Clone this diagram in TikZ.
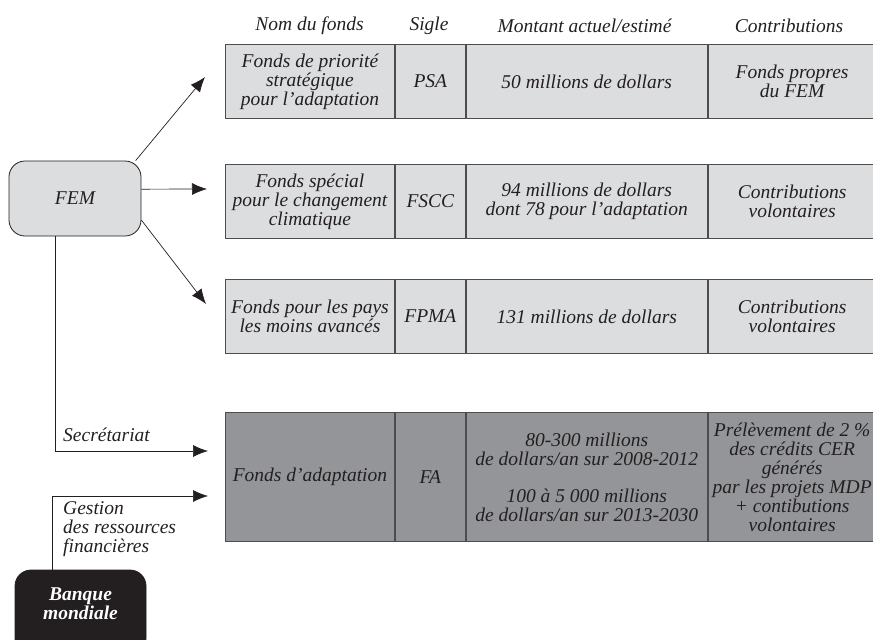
\documentclass[tikz,border=0pt]{standalone}
\usepackage{fontspec}
\setmainfont{Liberation Serif}
\usetikzlibrary{arrows.meta}

\definecolor{encre}{HTML}{231F20}
\definecolor{clair}{HTML}{DCDDDF}
\definecolor{fonce}{HTML}{939598}
\definecolor{bord}{HTML}{4D4D4F}

\tikzset{
        texte/.style = {font=\itshape\fontsize{19.5}{19}\selectfont, text=encre, align=center, inner sep=0pt},
        cellule/.style = {texte, draw=bord, line width=0.9pt, fill=clair, anchor=north west},
        colnom/.style = {minimum width=169pt},
        colsigle/.style = {minimum width=70pt},
        colmontant/.style = {minimum width=241pt},
        colcontrib/.style = {minimum width=168pt},
        fleche/.style = {draw=encre, line width=0.7pt, -{Latex[length=15pt,width=12pt]}},
        boite/.style = {texte, draw=encre, line width=0.8pt, rounded corners=16pt, minimum width=132pt}
    }

\begin{document}
\begin{tikzpicture}[x=1pt, y=-1pt]
            \useasboundingbox (0,0) rectangle (873,640);

            % en-tetes
            \foreach \c/\x/\t in {nom/309.5/{Nom du fonds}, sigle/429/Sigle, montant/584.5/{Montant actuel/estimé}, contrib/789/Contributions} {
                \node[texte] (h-\c) at (\x, 26) {\t};
            };

            % fonds du FEM
            \foreach \r/\y/\nom/\sigle/\montant/\contrib in {
                psa/44/{Fonds de priorité\\stratégique\\pour l'adaptation}/PSA/{50 millions de dollars}/{Fonds propres\\du FEM},
                fscc/164/{Fonds spécial\\pour le changement\\climatique}/FSCC/{94 millions de dollars\\dont 78 pour l'adaptation}/{Contributions\\volontaires},
                fpma/279/{Fonds pour les pays\\les moins avancés}/FPMA/{131 millions de dollars}/{Contributions\\volontaires}} {
                \node[cellule, colnom, minimum height=74pt] (\r-nom) at (225, \y) {\nom};
                \node[cellule, colsigle, minimum height=74pt] (\r-sigle) at (\r-nom.north east) {\sigle};
                \node[cellule, colmontant, minimum height=74pt] (\r-montant) at (\r-sigle.north east) {\montant};
                \node[cellule, colcontrib, minimum height=74pt] (\r-contrib) at (\r-montant.north east) {\contrib};
            };

            % fonds d'adaptation
            \node[cellule, colnom, fill=fonce, minimum height=129pt] (fa-nom) at (225, 412) {Fonds d'adaptation};
            \node[cellule, colsigle, fill=fonce, minimum height=129pt] (fa-sigle) at (fa-nom.north east) {FA};
            \node[cellule, colmontant, fill=fonce, minimum height=129pt] (fa-montant) at (fa-sigle.north east)
                {80-300 millions\\de dollars/an sur 2008-2012\\[18pt]100 à 5~000 millions\\de dollars/an sur 2013-2030};
            \node[cellule, colcontrib, fill=fonce, minimum height=129pt] (fa-contrib) at (fa-montant.north east)
                {Prélèvement de 2~\%\\des crédits CER\\générés\\par les projets MDP\\+ contibutions\\volontaires};

            % institutions
            \node[boite, fill=clair, minimum height=75pt] (fem) at (75, 198.5) {FEM};
            \node[boite, fill=encre, minimum width=131pt, minimum height=84pt,
                label={[texte, text=white, font=\bfseries\itshape\fontsize{19.5}{19}\selectfont, yshift=8pt]center:{Banque\\mondiale}}]
                (banque) at (80.5, 612) {};

            \coordinate (vers-psa) at (205, 77);
            \coordinate (vers-fscc) at (207, 189);
            \coordinate (vers-fpma) at (206, 304);
            \draw[fleche] (fem.32) -- (vers-psa);
            \draw[fleche] (fem.8) -- (vers-fscc);
            \draw[fleche] (fem.-18) -- (vers-fpma);

            \coordinate (sec-coin) at (55, 451);
            \coordinate (sec-fin) at (208, 451);
            \draw[fleche] (fem.south -| sec-coin) -- (sec-coin) -- (sec-fin);
            \node[texte, anchor=base west] (lab-sec) at (63, 441) {Secrétariat};

            \coordinate (ges-coin) at (52, 496);
            \coordinate (ges-fin) at (208, 496);
            \draw[fleche] (banque.north -| ges-coin) -- (ges-coin) -- (ges-fin);
            \node[texte, align=left, anchor=north west] (lab-ges) at (63, 501) {Gestion\\des ressources\\financières};

        \end{tikzpicture}
\end{document}
